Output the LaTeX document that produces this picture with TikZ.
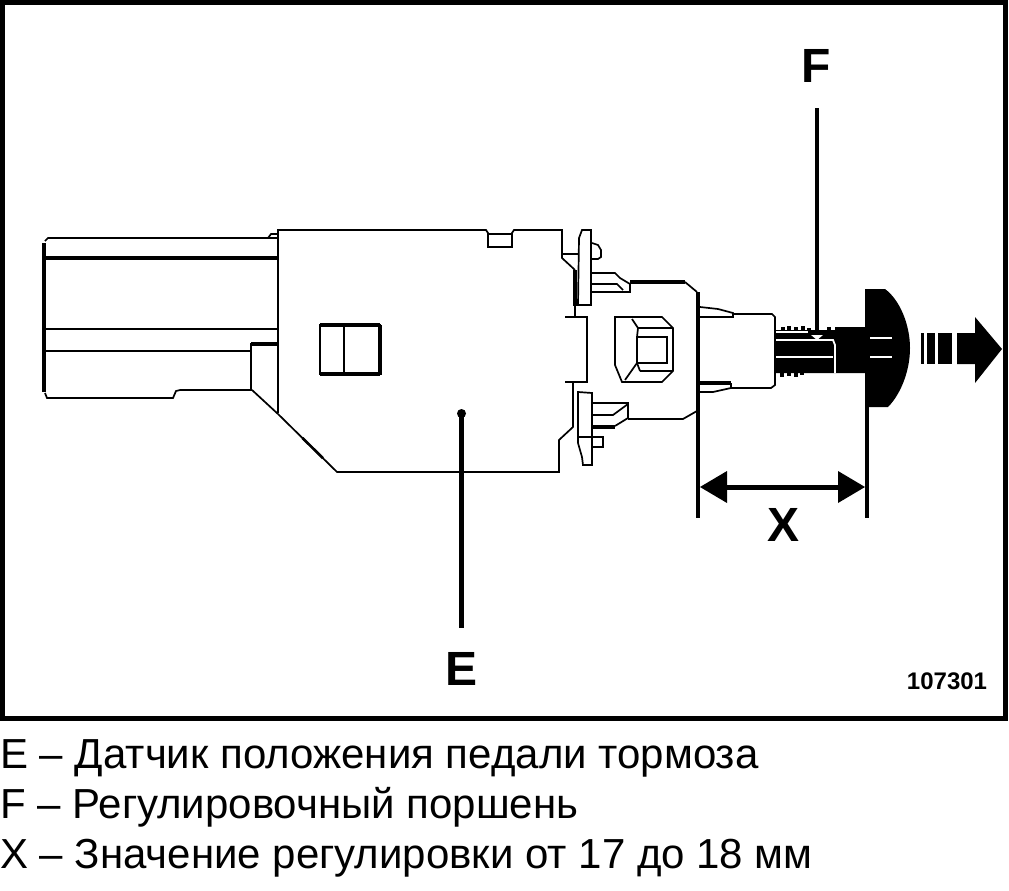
\documentclass[tikz,border=0pt]{standalone}
\usepackage{fontspec}
\setmainfont{Liberation Sans}
\tikzset{
 thinl/.style={draw=black,line width=1.7pt,line join=miter},
 midl/.style={draw=black,line width=2.6pt},
 thickl/.style={draw=black,line width=4pt},
 lead/.style={draw=black,line width=4.5pt},
 biglabel/.style={font=\fontsize{48}{48}\selectfont\bfseries,inner sep=0pt},
 captext/.style={font=\fontsize{42}{42}\selectfont,inner sep=0pt,anchor=base west},
}
\begin{document}
\begin{tikzpicture}[x=1pt,y=-1pt]
\useasboundingbox (0,0) rectangle (1009,891);
% frame
\draw[draw=black,line width=5pt] (2.5,2.5) rectangle (1005.5,718.5);
% connector
\draw[thinl] (278,238) -- (48,238) -- (45,241);
\draw[thickl] (44,243) -- (44,392);
\draw[thinl] (45,393) -- (47,398) -- (173,398) -- (176,391) -- (180,390) -- (252,390);
\draw[thinl] (268,238) -- (271,234) -- (278,234);
\draw[thickl] (44,258) -- (278,258);
\draw[thinl] (44,329) -- (278,329);
\draw[thinl] (44,351) -- (251,351);
\draw[thickl] (251,343.5) -- (278,343.5);
\draw[thinl] (251,343) -- (251,390);
% main body
\draw[thinl] (278,413) -- (278,230) -- (486,230) -- (488,233) -- (488,247) -- (512,247) -- (512,233) -- (514,230) -- (562,230) -- (562,253) -- (562,258) -- (575,270);
\draw[thinl] (488,234) -- (512,234);
\draw[thinl] (562,254) -- (578,254);
\draw[thickl] (575,270) -- (575,306);
\draw[thinl] (575,306) -- (575,317);
\draw[thinl] (252,390) -- (278,414);
\draw[thinl] (278,414) -- (337,472) -- (559,472) -- (559,440) -- (573,427) -- (573,382);
\draw[midl] (302.5,438) -- (323,458.2);
% small window
\draw[thinl] (320,325) rectangle (380,374);
\draw[thickl] (320,325) -- (380,325);
\draw[thickl] (320,374) -- (380,374);
\draw[thinl] (344,325) -- (344,374);
\draw[thickl] (380,325) -- (380,375);
% middle gap
\draw[thinl] (565,317) -- (587,317) -- (587,382) -- (565,382);
% upper clip
\draw[thinl] (579,238) -- (582,230) -- (591,230) -- (591,305) -- (578,305) -- cycle;
\draw[thinl] (592,243) -- (598,245) -- (601,250) -- (601,257) -- (598,259) -- (592,259);
\draw[thinl] (592,273) -- (615,273) -- (620,278) -- (630,284) -- (630,292) -- (592,292);
\draw[thinl] (592,284) -- (617,284) -- (623,290);
% lower clip
\draw[thinl] (578,392) -- (592,393) -- (592,465) -- (583,465) -- (582,457) -- (578,443) -- cycle;
\draw[thinl] (578,437) -- (603,437) -- (603,447) -- (592,447);
\draw[thinl] (593,403) -- (628,403) -- (628,418) -- (615,426);
\draw[thickl] (593,427) -- (615,427);
\draw[thinl] (593,415) -- (613,415) -- (628,404);
% block
\draw[thickl] (630,282) -- (685,282);
\draw[thinl] (685,282) -- (697,292);
\draw[thinl] (628,419) -- (683,419) -- (697,411);
\draw[thickl] (698,292) -- (698,518);
% block window
\draw[thinl] (615,317) -- (662,317) -- (673,328) -- (673,371) -- (662,382) -- (622,382) -- (615,365) -- cycle;
\draw[thinl] (632,319) -- (638,328) -- (673,328);
\draw[thinl] (638,328) -- (637,337);
\draw[thinl] (637,337) rectangle (667,363);
\draw[midl] (637,337) -- (667,337) -- (667,363);
\draw[thinl] (637,363) -- (625,380);
\draw[thinl] (640,371) -- (673,371);
\draw[thinl] (637,363) -- (640,371);
% plunger housing
\draw[thinl] (700,307) -- (718,309) -- (733,313) -- (733,317) -- (700,317);
\draw[thinl] (733,314) -- (772,314) -- (775,317) -- (775,385) -- (771,388) -- (731,388);
\draw[thickl] (700,383) -- (731,383);
\draw[thinl] (731,383) -- (731,388) -- (713,392) -- (700,392);
% threaded rod and head
\fill[black] (865,289) -- (885,289) .. controls (900,300) and (910,325) .. (910,348) .. controls (910,372) and (900,395) .. (888,407) -- (865,407) -- (865,373) -- (776,373) -- (776,330) -- (835,330) -- (835,327) -- (865,327) -- cycle;
\foreach \tx/\th in {781/3,787/4,794/3,801/4,807/2,827/3}{
 \fill[black] (\tx,330) rectangle ++(4,-\th);
}
\foreach \tx/\th in {780/4,787/3,794/4,800/2}{
 \fill[black] (\tx,373) rectangle ++(4,\th);
}
\draw[draw=white,line width=1.4pt] (776,332) -- (808,332);
\draw[draw=white,line width=1.8pt] (776,340) -- (833,340) -- (835,345) -- (835,373);
\draw[draw=white,line width=1.8pt] (776,357) -- (833,357);
\draw[draw=white,line width=1.8pt] (870,338) -- (892,338);
\draw[draw=white,line width=1.8pt] (870,357) -- (892,357);
\fill[white] (811,335) -- (823,335) -- (817,340) -- cycle;
% pull arrow
\fill[black] (921,333) rectangle (923.5,364);
\fill[black] (927,333) rectangle (935,364);
\fill[black] (938,333) rectangle (952,364);
\fill[black] (957,333) -- (975,333) -- (975,317) -- (1002,349) -- (975,383) -- (975,364) -- (957,364) -- cycle;
% dimension
\coordinate (dl) at (700,487);
\coordinate (dr) at (865,487);
\draw[draw=black,line width=3.6pt] (867,400) -- (867,518);
\draw[draw=black,line width=5pt] (724,487) -- (842,487);
\fill[black] (dl) -- (727,471) -- (727,503) -- cycle;
\fill[black] (dr) -- (838,471) -- (838,503) -- cycle;
\node[biglabel] (labX) at (783,525) {X};
% leaders
\fill[black] (461.5,413.5) circle (4.5);
\coordinate (eend) at (461.5,413);
\node[biglabel] (labE) at (462,669) {E};
\draw[lead] (eend) -- (461.5,628);
\coordinate (fend) at (817,334);
\node[biglabel] (labF) at (816,66) {F};
\draw[lead] (817,108) -- (fend);
% number
\node[inner sep=0pt,font=\fontsize{24}{24}\selectfont\bfseries] (num) at (947,681) {107301};
% caption
\node[captext] (c1) at (0,768) {E – Датчик положения педали тормоза};
\node[captext] (c2) at (0,818) {F – Регулировочный поршень};
\node[captext] (c3) at (0,868) {X – Значение регулировки от 17 до 18 мм};
\end{tikzpicture}
\end{document}
